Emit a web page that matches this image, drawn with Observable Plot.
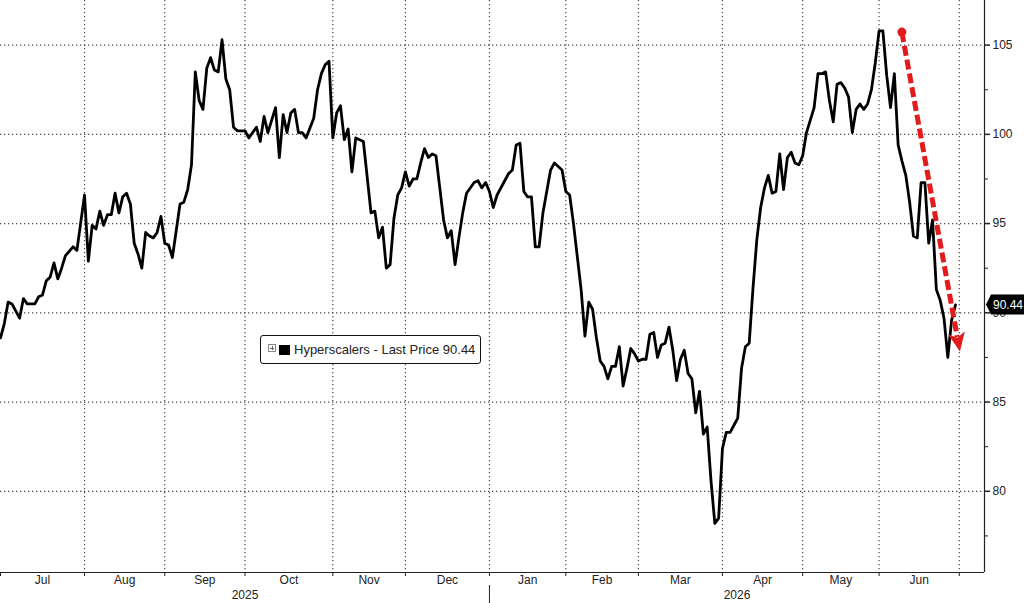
<!DOCTYPE html>
<html>
<head>
<meta charset="utf-8">
<script src="https://cdn.jsdelivr.net/npm/d3@7"></script>
<script src="https://cdn.jsdelivr.net/npm/@observablehq/plot@0.6"></script>
<style>
  html, body { margin: 0; padding: 0; background: #fff; }
  #wrap { position: relative; width: 1024px; height: 603px; overflow: hidden;
          font-family: "Liberation Sans", Arial, sans-serif; }
  #wrap svg { position: absolute; left: 0; top: 0; }
  #legend { position: absolute; left: 260px; top: 335px; width: 221px; height: 29px;
            box-sizing: border-box; border: 1px solid #111; border-radius: 3px; background: #fff;
            display: flex; align-items: center; padding-left: 7px; font-size: 13px; color: #222;
            z-index: 2; white-space: nowrap; }
  #legend .pm { display: inline-block; width: 6px; height: 6px; border: 1px solid #888; position: relative;
                margin-right: 3px; margin-top: -3px; }
  #legend .pm::before { content: ""; position: absolute; left: 1px; top: 2.5px; width: 4px; height: 1px; background: #666; }
  #legend .pm::after { content: ""; position: absolute; left: 2.5px; top: 1px; width: 1px; height: 4px; background: #666; }
  #legend .sw { display: inline-block; width: 11px; height: 10px; background: #000; margin-right: 4px; }
</style>
</head>
<body>
<div id="wrap"></div>
<script>
// ---------------- data ----------------
const seriesName = "Hyperscalers";
// trading-day index since 1 Jul 2025
const days = [
  0,1,2,3,5,6,7,9,10,11,12,13,14,15,16,17,19,20,22,23,24,25,26,27,28,29,30,31,32,33,34,35,36,37,38,39,40,41,42,43,44,45,46,47,48,49,50,
  51,52,53,54,55,56,57,58,59,60,61,62,64,65,66,67,68,69,70,71,72,73,74,75,76,77,78,79,80,82,83,84,85,86,87,88,89,90,91,92,93,95,97,98,99,100,
  101,102,103,104,105,106,107,108,109,110,111,112,113,114,115,116,117,118,119,120,121,122,124,125,126,127,128,129,130,132,133,134,135,136,137,138,139,140,
  141,142,143,144,145,146,147,148,149,150,152,153,154,155,156,157,158,159,160,161,162,163,164,165,166,167,168,169,170,171,172,173,174,175,176,177,178,179,180,
  181,182,183,184,185,186,187,188,189,190,191,192,193,194,195,196,197,198,199,200,201,202,203,204,205,206,207,208,209,210,211,212,213,214,215,216,217,218,219,220,
  221,222,223,224,225,226,227,228,229,230,231,232,233,234,235,236,237,238,239,240,241,242,243,244,245,246,247,248,249,250
];
const values = [
  88.6,89.4,90.6,90.5,89.7,90.8,90.5,90.5,90.9,91.0,91.8,92.0,92.8,91.9,92.5,93.2,93.7,93.5,96.6,92.9,94.9,94.7,95.7,94.9,95.5,95.5,96.7,95.6,96.5,96.7,96.1,93.9,93.3,92.5,94.5,94.3,94.2,94.5,95.4,93.9,93.8,93.1,94.6,96.1,96.2,96.9,98.3,
  103.5,101.9,101.4,103.7,104.3,103.6,103.5,105.3,103.1,102.5,100.4,100.2,100.2,99.8,100.1,100.4,99.6,101.0,100.1,100.8,101.5,98.7,101.1,100.1,101.2,101.4,100.1,100.1,99.8,100.9,102.5,103.4,103.9,104.1,99.8,101.2,101.6,99.7,100.3,97.9,99.8,99.6,95.6,95.7,94.2,94.8,
  92.5,92.7,95.3,96.6,97.0,97.9,97.1,97.5,97.5,98.4,99.2,98.7,98.9,98.8,97.0,95.2,94.2,94.6,92.7,94.2,95.6,96.7,97.3,97.4,97.0,97.3,96.8,95.9,96.6,97.4,97.8,98.0,99.4,99.5,96.8,96.5,96.5,93.7,
  93.7,95.6,96.8,98.0,98.4,98.2,98.0,96.8,96.6,95.0,91.3,88.7,90.6,90.2,88.6,87.3,87.0,86.3,87.0,87.0,88.1,85.9,86.9,88.0,87.7,87.3,87.4,87.4,88.8,88.9,87.5,88.2,88.3,89.2,87.9,86.2,87.4,87.9,86.6,
  86.3,84.4,85.6,83.2,83.6,80.6,78.2,78.5,82.4,83.3,83.3,83.7,84.1,86.9,88.1,88.3,91.4,94.1,95.9,97.0,97.7,96.7,96.8,98.9,96.9,98.7,99.0,98.4,98.3,98.8,100.1,100.8,101.5,103.4,103.4,103.5,101.9,100.7,102.8,102.9,
  102.6,102.1,100.1,101.4,101.7,101.4,101.7,102.5,104.0,105.8,105.8,103.3,101.5,103.4,99.4,98.5,97.7,96.2,94.3,94.2,97.3,97.3,93.9,95.2,91.3,90.7,89.7,87.5,89.6,90.44
];
const yTicks = [80, 85, 90, 95, 100, 105];
const yMinorTicks = [77.5, 82.5, 87.5, 92.5, 97.5, 102.5];
const yDomain = [75.45, 107.5];
const xDomain = [0, 257.6];
const monthStarts = [0, 22, 43, 64, 87, 106, 128, 148, 167, 189, 210, 230, 251];
const monthLabels = ["Jul", "Aug", "Sep", "Oct", "Nov", "Dec", "Jan", "Feb", "Mar", "Apr", "May", "Jun"];
const yearStarts = [0, 128];
const yearLabels = ["2025", "2026"];
const arrowFrom = [236.1, 105.7];
const arrowTo = [251.3, 87.8];

// ---------------- derived ----------------
const data = days.map((d, i) => ({day: d, value: values[i]}));
const last = data[data.length - 1];
const fmt = d3.format(".2f");
const monthMids = monthLabels.map((_, i) => (monthStarts[i] + monthStarts[i + 1]) / 2);
const monthByMid = new Map(monthMids.map((m, i) => [m, monthLabels[i]]));
const yearEnds = [yearStarts[1], xDomain[1]];
const yearMids = yearLabels.map((_, i) => (yearStarts[i] + yearEnds[i]) / 2);
const yearByMid = new Map(yearMids.map((m, i) => [m, yearLabels[i]]));
const red = "#e21b1d";
const gridStyle = {stroke: "#4a4a4a", strokeOpacity: 1, strokeWidth: 1.2, strokeDasharray: "1.3,2.7"};

function arrowMark(index, scales) {
  const x1 = scales.x(arrowFrom[0]), y1 = scales.y(arrowFrom[1]);
  const x2 = scales.x(arrowTo[0]), y2 = scales.y(arrowTo[1]);
  const dx = x2 - x1, dy = y2 - y1, len = Math.hypot(dx, dy);
  const ux = dx / len, uy = dy / len;
  const head = 19, half = 8.5;
  const bx = x2 - ux * head, by = y2 - uy * head;
  const g = d3.create("svg:g");
  g.append("line").attr("x1", x1).attr("y1", y1).attr("x2", bx + ux * 4).attr("y2", by + uy * 4)
    .attr("stroke", red).attr("stroke-width", 5).attr("stroke-dasharray", "10,4");
  g.append("path")
    .attr("d", `M${x2},${y2}L${bx - uy * half},${by + ux * half}L${bx + ux * 5},${by + uy * 5}L${bx + uy * half},${by - ux * half}Z`)
    .attr("fill", red);
  g.append("circle").attr("cx", x1).attr("cy", y1).attr("r", 4.5).attr("fill", red);
  return g.node();
}

function priceTag(index, scales, values, dimensions) {
  const y = scales.y(last.value);
  const x = dimensions.width - dimensions.marginRight + 2;
  const g = d3.create("svg:g");
  g.append("path")
    .attr("d", `M${x},${y}L${x + 5},${y - 10}H${dimensions.width}V${y + 10}H${x + 5}Z`)
    .attr("fill", "#000");
  g.append("text").attr("x", x + 7).attr("y", y).attr("dy", "0.35em")
    .attr("text-anchor", "start")
    .attr("fill", "#fff").attr("font-size", 12).attr("font-family", "Liberation Sans, Arial, sans-serif")
    .text(fmt(last.value));
  return g.node();
}

const chart = Plot.plot({
  width: 1024,
  height: 603,
  marginTop: 0,
  marginRight: 40,
  marginBottom: 31,
  marginLeft: 0,
  style: {fontFamily: "Liberation Sans, Arial, sans-serif", fontSize: "12px", color: "#222", background: "#fff"},
  x: {type: "linear", domain: xDomain, axis: null},
  y: {domain: yDomain, axis: null},
  marks: [
    Plot.ruleY(yTicks, gridStyle),
    Plot.ruleX(monthStarts.slice(1), gridStyle),
    Plot.ruleY([yDomain[0]], {stroke: "#222", strokeWidth: 1.2}),
    Plot.ruleX([xDomain[1]], {stroke: "#222", strokeWidth: 1.2}),
    Plot.axisY({anchor: "right", ticks: yTicks, tickSize: 5, tickPadding: 3, label: null, tickFormat: d => String(d), strokeWidth: 1.5}),
    Plot.axisY({anchor: "right", ticks: yMinorTicks, tickSize: 3, label: null, tickFormat: () => ""}),
    Plot.axisX({anchor: "bottom", ticks: monthStarts, tickSize: 4, label: null, tickFormat: () => ""}),
    Plot.axisX({anchor: "bottom", ticks: monthMids, tickSize: 0, tickPadding: 3, label: null, tickFormat: d => monthByMid.get(d)}),
    Plot.axisX({anchor: "bottom", ticks: yearMids, tickSize: 0, tickPadding: 18, label: null, tickFormat: d => yearByMid.get(d)}),
    Plot.axisX({anchor: "bottom", ticks: [yearStarts[1]], tickSize: 18, dy: 13, label: null, tickFormat: () => ""}),
    Plot.line(data, {x: "day", y: "value", stroke: "#000", strokeWidth: 2.8, strokeLinejoin: "round"}),
    arrowMark,
    priceTag
  ]
});

const wrap = document.getElementById("wrap");
wrap.appendChild(chart);
const legend = document.createElement("div");
legend.id = "legend";
legend.innerHTML = `<span class="pm"></span><span class="sw"></span><span>${seriesName} - Last Price ${fmt(last.value)}</span>`;
wrap.appendChild(legend);
</script>
</body>
</html>
